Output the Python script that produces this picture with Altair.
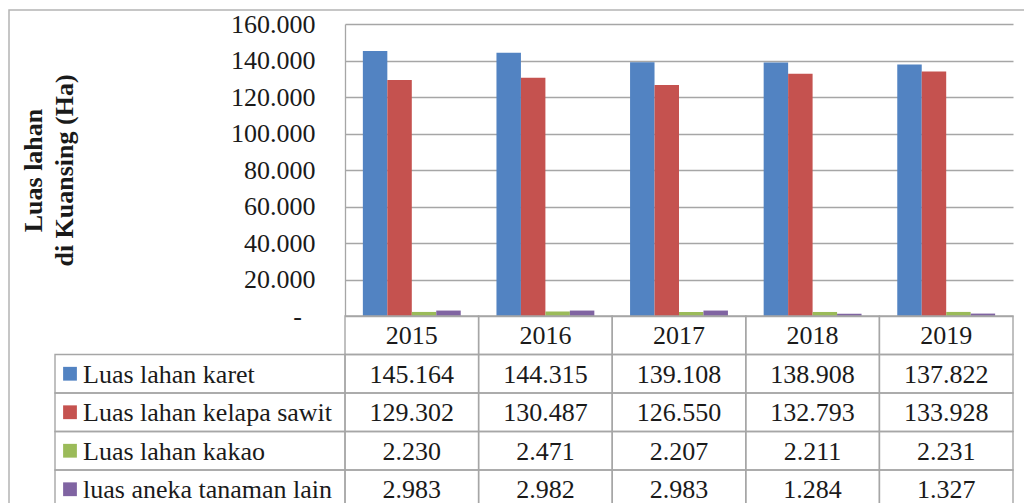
import altair as alt
import pandas as pd

# ---- data ----
years = ["2015", "2016", "2017", "2018", "2019"]
series = ["Luas lahan karet", "Luas lahan kelapa sawit", "Luas lahan kakao", "luas aneka tanaman lain"]
karet = [145164, 144315, 139108, 138908, 137822]
sawit = [129302, 130487, 126550, 132793, 133928]
kakao = [2230, 2471, 2207, 2211, 2231]
lain = [2983, 2982, 2983, 1284, 1327]
colors = ["#5283C2", "#C5524F", "#9BBB59", "#8064A2"]
y_ticks = [0, 20000, 40000, 60000, 80000, 100000, 120000, 140000, 160000]
zero_label = ["-"]
y_title = ["Luas lahan", "di Kuansing (Ha)"]

FONT = "Liberation Serif"
GRID = "#a6a6a6"
TXT = "#1a1a1a"
W, H = 668, 292
ROW_H = 38.5

rows = []
for s, vals in zip(series, [karet, sawit, kakao, lain]):
    for yr, v in zip(years, vals):
        rows.append({"year": yr, "series": s, "row": s, "value": v,
                     "label": f"{v:,}".replace(",", ".")})
df = pd.DataFrame(rows)

row_order = ["header"] + series
header_df = pd.DataFrame({"year": years, "row": ["header"] * len(years)})
cells_df = pd.DataFrame([{"year": yr, "row": r} for r in row_order for yr in years])
names_df = pd.DataFrame({"series": series, "row": series})
zero_df = pd.DataFrame({"value": [0], "t": zero_label})

x_enc = alt.X("year:O", sort=years, axis=None,
              scale=alt.Scale(domain=years, paddingInner=0, paddingOuter=0))

y_axis = alt.Axis(values=y_ticks, title=y_title, labelOverlap=False, labelBound=False,
                  labelExpr="datum.value == 0 ? '' : replace(format(datum.value, ','), ',', '.')")
y_scale = alt.Scale(domain=[0, 160000], nice=False)

bars = alt.Chart(df).mark_bar().encode(
    x=x_enc,
    xOffset=alt.XOffset("series:N", sort=series,
                        scale=alt.Scale(domain=series, paddingInner=0, paddingOuter=0.73)),
    y=alt.Y("value:Q", scale=y_scale, axis=y_axis),
    color=alt.Color("series:N", sort=series,
                    scale=alt.Scale(domain=series, range=colors), legend=None),
)

# the "-" shown for zero on the value axis (Excel accounting style, offset left)
zero_tick = alt.Chart(zero_df).mark_text(font=FONT, fontSize=26, color=TXT, align="right",
                                         baseline="middle", dy=1).encode(
    y=alt.Y("value:Q", scale=y_scale, axis=y_axis), x=alt.value(-43), text="t:N"
)

plot = alt.layer(bars, zero_tick)

y_tab = alt.Y("row:N", sort=row_order, axis=None,
              scale=alt.Scale(domain=row_order, range=[H, H + ROW_H * len(row_order)],
                              paddingInner=0, paddingOuter=0))

frame = alt.Chart(header_df.head(1)).mark_rect(fillOpacity=0, stroke="#b4b4b4", strokeWidth=1.5).encode(
    x=alt.value(-336), x2=alt.value(720), y=alt.value(-14), y2=alt.value(560)
)

cells = alt.Chart(cells_df).mark_rect(fillOpacity=0, stroke=GRID, strokeWidth=1.4).encode(
    x=x_enc, y=y_tab
)

name_cells = alt.Chart(names_df).mark_rect(fillOpacity=0, stroke=GRID, strokeWidth=1.4).encode(
    x=alt.value(-290), x2=alt.value(0), y=y_tab
)

year_text = alt.Chart(header_df).mark_text(font=FONT, fontSize=26, color=TXT, dy=1).encode(
    x=alt.X("year:O", sort=years, axis=None, bandPosition=0.5), y=y_tab, text="year:N"
)

num_text = alt.Chart(df).mark_text(font=FONT, fontSize=26, color=TXT, dy=1).encode(
    x=alt.X("year:O", sort=years, axis=None, bandPosition=0.5), y=y_tab, text="label:N"
)

squares = alt.Chart(names_df).mark_square(size=190, opacity=1).encode(
    x=alt.value(-275), y=y_tab,
    color=alt.Color("series:N", sort=series,
                    scale=alt.Scale(domain=series, range=colors), legend=None),
)

name_text = alt.Chart(names_df).mark_text(font=FONT, fontSize=26, color=TXT, align="left", dy=1).encode(
    x=alt.value(-262), y=y_tab, text="series:N"
)

table = alt.layer(frame, cells, name_cells, year_text, num_text, squares, name_text)

chart = alt.layer(plot, table).resolve_scale(y="independent").properties(
    width=W, height=H,
    autosize=alt.AutoSizeParams(type="none"),
    padding={"left": 337, "top": 16, "right": 11, "bottom": 187},
    background="white",
).configure_view(stroke=None).configure_axisY(
    grid=True, gridColor=GRID, gridWidth=1.3,
    domain=True, domainColor=GRID, domainWidth=1.3,
    ticks=False, labelPadding=30, labelOverlap=False,
    labelFont=FONT, labelFontSize=26, labelColor=TXT,
    titleFont=FONT, titleFontSize=26, titleFontWeight="bold", titleColor=TXT,
    titlePadding=153, titleLineHeight=31,
)

chart.save("out.html", embed_options={"renderer": "svg", "actions": False})
